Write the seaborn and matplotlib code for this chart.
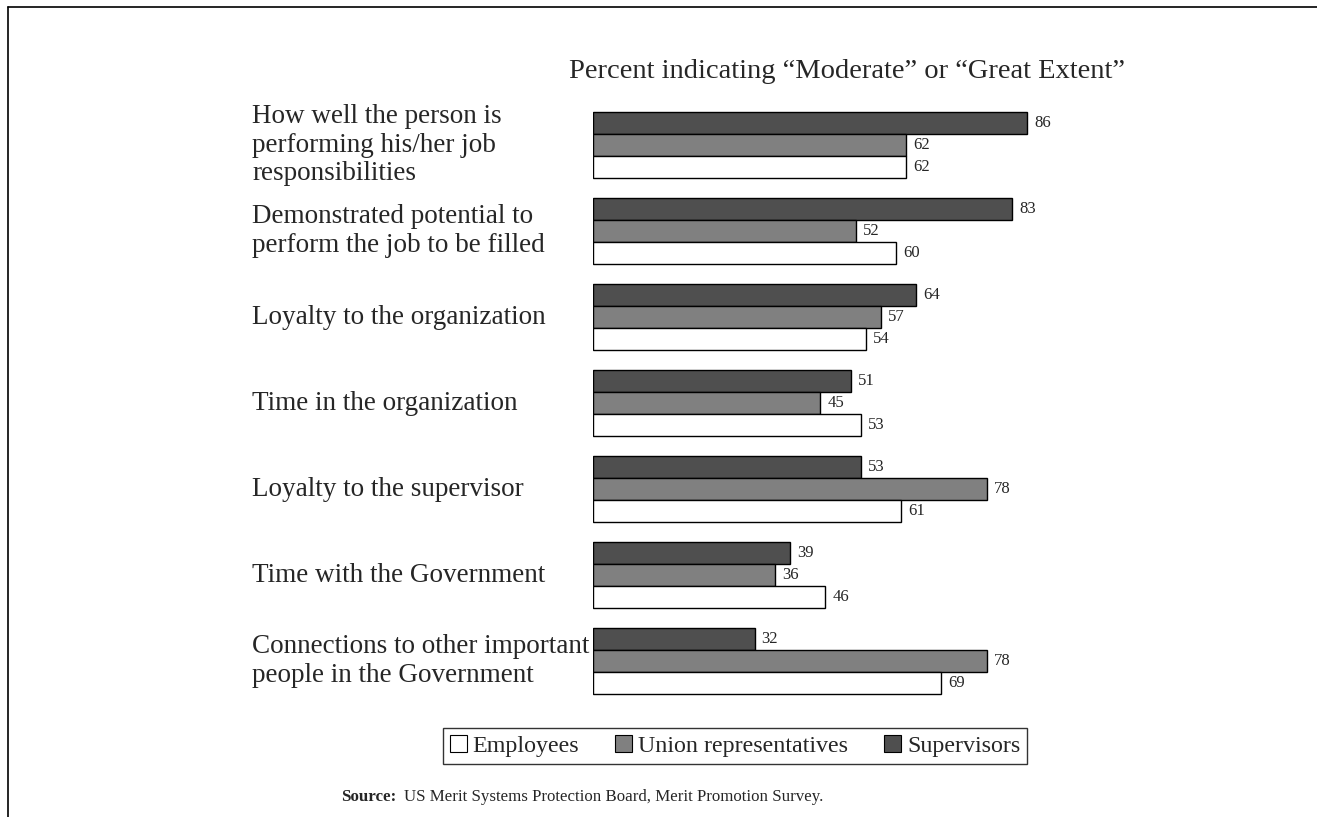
import matplotlib

matplotlib.use("Agg")
import matplotlib.pyplot as plt
import pandas as pd
import seaborn as sns
from matplotlib.lines import Line2D
from matplotlib.patches import Patch

CATEGORIES = [
    "How well the person is\nperforming his/her job\nresponsibilities",
    "Demonstrated potential to\nperform the job to be filled",
    "Loyalty to the organization",
    "Time in the organization",
    "Loyalty to the supervisor",
    "Time with the Government",
    "Connections to other important\npeople in the Government",
]
SUPERVISORS = [86, 83, 64, 51, 53, 39, 32]
UNION_REPS = [62, 52, 57, 45, 78, 36, 78]
EMPLOYEES = [62, 60, 54, 53, 61, 46, 69]

GROUPS = ["Supervisors", "Union representatives", "Employees"]
COLORS = {"Supervisors": "#4f4f4f", "Union representatives": "#808080", "Employees": "#ffffff"}

TITLE = "Percent indicating \u201cModerate\u201d or \u201cGreat Extent\u201d"
SOURCE = "US Merit Systems Protection Board, Merit Promotion Survey."

W, H = 1317, 817


def _frame() -> pd.DataFrame:
    rows = []
    for group, vals in zip(GROUPS, [SUPERVISORS, UNION_REPS, EMPLOYEES]):
        for cat, v in zip(CATEGORIES, vals):
            rows.append({"category": cat, "group": group, "value": v})
    return pd.DataFrame(rows)


def main() -> None:
    sns.set_theme(style="white")
    plt.rcParams["font.family"] = ["Liberation Serif", "DejaVu Serif"]

    df = _frame()
    fig = plt.figure(figsize=(W / 100, H / 100), dpi=100)
    ax = fig.add_axes([593 / W, 1 - 704 / H, 505 / W, 602 / H])

    sns.barplot(
        data=df, y="category", x="value", hue="group", order=CATEGORIES, hue_order=GROUPS,
        palette=COLORS, orient="h", width=0.77, edgecolor="black", linewidth=1.0,
        saturation=1, ax=ax, legend=False,
    )
    for cont in ax.containers:
        ax.bar_label(cont, padding=5, fontsize=12)

    ax.set_xlim(0, 100)
    ax.set_ylim(len(CATEGORIES) - 0.5, -0.5)
    ax.set_xticks([])
    ax.set_yticks([])
    ax.set_xlabel("")
    ax.set_ylabel("")
    sns.despine(ax=ax, left=True, bottom=True)

    # category labels sit left of the bars, one block per group
    trans = matplotlib.transforms.blended_transform_factory(fig.transFigure, ax.transData)
    for i, cat in enumerate(CATEGORIES):
        fig.text(252 / W, i, cat, transform=trans, ha="left", va="center",
                 fontsize=19.5, linespacing=1.2)

    fig.text(847 / W, 1 - 72 / H, TITLE, ha="center", va="center", fontsize=20.5)

    handles = [Patch(facecolor=COLORS[g], edgecolor="black", linewidth=0.8, label=g)
               for g in ["Employees", "Union representatives", "Supervisors"]]
    fig.legend(handles=handles, loc="center", bbox_to_anchor=(735 / W, 1 - 746 / H), ncol=3,
               frameon=True, fancybox=False, edgecolor="black", fontsize=17.3,
               handlelength=0.7, handleheight=0.7, handletextpad=0.25, columnspacing=1.5,
               borderpad=0.3)

    fig.text(396 / W, 1 - 797 / H, "Source:", ha="right", va="center", fontsize=12.2, fontweight="bold")
    fig.text(404 / W, 1 - 797 / H, SOURCE, ha="left", va="center", fontsize=12.2)

    fig.add_artist(Line2D([8 / W, 1], [1 - 7 / H, 1 - 7 / H], color="black", linewidth=1.2))
    fig.add_artist(Line2D([8 / W, 8 / W], [0, 1 - 7 / H], color="black", linewidth=1.2))

    fig.savefig("out.png", dpi=100, facecolor="white")
    plt.close(fig)


if __name__ == "__main__":
    main()
